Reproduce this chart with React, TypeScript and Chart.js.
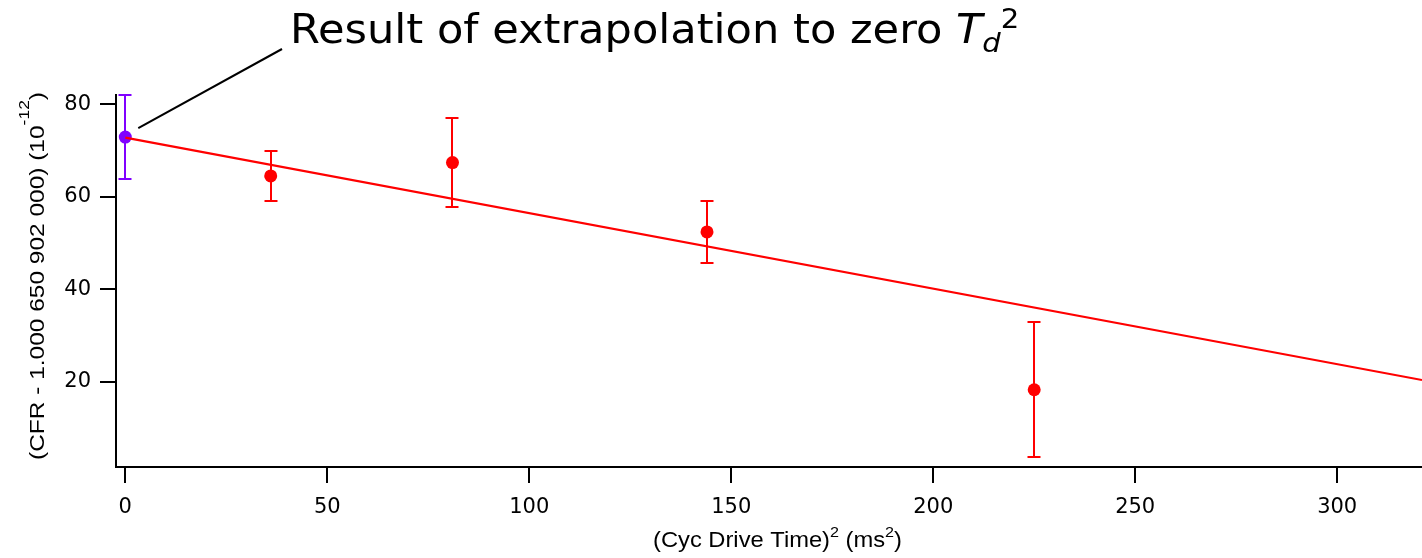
import React, { useEffect, useRef } from 'react';
import { Chart, registerables } from 'chart.js';

Chart.register(...registerables);

// ---- data ----
const xValues = [0, 36, 81, 144, 225];
const yValues = [72.9, 64.5, 67.4, 52.4, 18.3];
const yErrors = [9.0, 5.5, 9.7, 6.7, 14.6];
const pointColors = ['#8000ff', '#ff0000', '#ff0000', '#ff0000', '#ff0000'];
const fitX = [0, 321];
const fitY = [72.8, 20.4];
const xTicks = [0, 50, 100, 150, 200, 250, 300];
const yTicks = [20, 40, 60, 80];
const xRange = [-2.3, 321];
const yRange = [1.6, 82];

const annotationMain = 'Result of extrapolation to zero ';
const annotationVar = 'T';
const annotationSub = 'd';
const annotationSup = '2';
const xTitleParts = ['(Cyc Drive Time)', '2', ' (ms', '2', ')'];
const yTitleParts = ['(CFR - 1.000 650 902 000) (10', '-12', ')'];

type Seg = { text: string; size: number; dy: number; italic?: boolean };

function segWidth(ctx: CanvasRenderingContext2D, segs: Seg[], family: string) {
  let w = 0;
  for (const s of segs) {
    ctx.font = `${s.italic ? 'italic ' : ''}${s.size}px "${family}"`;
    w += ctx.measureText(s.text).width;
  }
  return w;
}

function drawRich(
  ctx: CanvasRenderingContext2D,
  segs: Seg[],
  family: string,
  x: number,
  y: number,
  sx: number,
  rotate: boolean
) {
  ctx.save();
  ctx.translate(x, y);
  if (rotate) ctx.rotate(-Math.PI / 2);
  ctx.scale(sx, 1);
  ctx.textAlign = 'left';
  ctx.textBaseline = 'alphabetic';
  ctx.fillStyle = '#000';
  let cx = 0;
  for (const s of segs) {
    ctx.font = `${s.italic ? 'italic ' : ''}${s.size}px "${family}"`;
    ctx.fillText(s.text, cx, s.dy);
    cx += ctx.measureText(s.text).width;
  }
  ctx.restore();
}

const errorBarPlugin = {
  id: 'errorBars',
  beforeDatasetsDraw(chart: any) {
    const ctx: CanvasRenderingContext2D = chart.ctx;
    const xs = chart.scales.x;
    const ys = chart.scales.y;
    ctx.save();
    ctx.lineWidth = 2;
    xValues.forEach((xv, i) => {
      const px = Math.round(xs.getPixelForValue(xv));
      const top = Math.round(ys.getPixelForValue(yValues[i] + yErrors[i]));
      const bot = Math.round(ys.getPixelForValue(yValues[i] - yErrors[i]));
      ctx.strokeStyle = pointColors[i];
      ctx.beginPath();
      ctx.moveTo(px, top);
      ctx.lineTo(px, bot);
      ctx.moveTo(px - 6.5, top);
      ctx.lineTo(px + 6.5, top);
      ctx.moveTo(px - 6.5, bot);
      ctx.lineTo(px + 6.5, bot);
      ctx.stroke();
    });
    ctx.restore();
  },
};

const textPlugin = {
  id: 'richText',
  afterDraw(chart: any) {
    const ctx: CanvasRenderingContext2D = chart.ctx;
    const xs = chart.scales.x;
    const ys = chart.scales.y;

    // leader line from the extrapolated point to the label
    const p0x = xs.getPixelForValue(xValues[0]);
    const p0y = ys.getPixelForValue(yValues[0]);
    ctx.save();
    ctx.strokeStyle = '#000';
    ctx.lineWidth = 2;
    ctx.beginPath();
    ctx.moveTo(p0x + 13, p0y - 9);
    ctx.lineTo(282, 49);
    ctx.stroke();
    ctx.restore();

    // annotation
    const annFamily = 'DejaVu Sans';
    const mainSeg: Seg[] = [{ text: annotationMain, size: 40, dy: 0 }];
    const annSx = 666 / segWidth(ctx, mainSeg, annFamily);
    drawRich(
      ctx,
      [
        { text: annotationMain, size: 40, dy: 0 },
        { text: annotationVar, size: 40, dy: 0, italic: true },
        { text: annotationSub, size: 27, dy: 9, italic: true },
        { text: annotationSup, size: 27, dy: -15 },
      ],
      annFamily,
      290,
      43,
      annSx,
      false
    );

    // x title
    const tFamily = 'Liberation Sans';
    const xSegs: Seg[] = [
      { text: xTitleParts[0], size: 22, dy: 0 },
      { text: xTitleParts[1], size: 15, dy: -10 },
      { text: xTitleParts[2], size: 22, dy: 0 },
      { text: xTitleParts[3], size: 15, dy: -10 },
      { text: xTitleParts[4], size: 22, dy: 0 },
    ];
    const xSx = 249 / segWidth(ctx, xSegs, tFamily);
    drawRich(ctx, xSegs, tFamily, 653, 547, xSx, false);

    // y title
    const ySegs: Seg[] = [
      { text: yTitleParts[0], size: 21, dy: 0 },
      { text: yTitleParts[1], size: 15, dy: -15 },
      { text: yTitleParts[2], size: 21, dy: 0 },
    ];
    const ySx = 368 / segWidth(ctx, ySegs, tFamily);
    drawRich(ctx, ySegs, tFamily, 43.5, 460, ySx, true);
  },
};

export default function App() {
  const canvasRef = useRef<HTMLCanvasElement | null>(null);

  useEffect(() => {
    const canvas = canvasRef.current;
    if (!canvas) return;
    const points = xValues.map((x, i) => ({ x, y: yValues[i] }));
    const fit = fitX.map((x, i) => ({ x, y: fitY[i] }));

    const axisCommon = {
      type: 'linear' as const,
      grid: {
        display: true,
        drawOnChartArea: false,
        drawTicks: true,
        tickLength: 16,
        color: '#000',
        lineWidth: 2,
      },
      border: { display: true, color: '#000', width: 2 },
    };

    const chart = new Chart(canvas, {
      type: 'scatter',
      data: {
        datasets: [
          {
            data: points,
            pointRadius: 6.5,
            pointHoverRadius: 6.5,
            pointBackgroundColor: pointColors,
            pointBorderColor: pointColors,
            pointBorderWidth: 0,
            showLine: false,
            order: 2,
            clip: false,
          },
          {
            data: fit,
            showLine: true,
            pointRadius: 0,
            borderColor: '#ff0000',
            borderWidth: 2.2,
            fill: false,
            order: 1,
          },
        ],
      },
      options: {
        animation: false,
        responsive: false,
        devicePixelRatio: 1,
        events: [],
        layout: { autoPadding: false, padding: { top: 95, right: 0, left: 0, bottom: 0 } },
        plugins: {
          legend: { display: false },
          tooltip: { enabled: false },
          title: { display: false },
        },
        scales: {
          x: {
            ...axisCommon,
            min: xRange[0],
            max: xRange[1],
            afterBuildTicks: (s: any) => {
              s.ticks = xTicks.map((v) => ({ value: v }));
            },
            afterFit: (s: any) => {
              s.height = 91;
              s.paddingLeft = 0;
              s.paddingRight = 0;
            },
            ticks: {
              color: '#000',
              padding: 12,
              maxRotation: 0,
              font: { family: 'DejaVu Sans', size: 21 },
            },
          },
          y: {
            ...axisCommon,
            min: yRange[0],
            max: yRange[1],
            afterBuildTicks: (s: any) => {
              s.ticks = yTicks.map((v) => ({ value: v }));
            },
            afterFit: (s: any) => {
              s.width = 116;
              s.paddingTop = 0;
              s.paddingBottom = 0;
            },
            ticks: {
              color: '#000',
              padding: 9,
              font: { family: 'DejaVu Sans', size: 21 },
            },
          },
        },
      },
      plugins: [errorBarPlugin, textPlugin],
    });

    return () => {
      chart.destroy();
    };
  }, []);

  return (
    <div style={{ position: 'fixed', left: 0, top: 0, width: 1422, height: 558, background: '#fff' }}>
      <canvas ref={canvasRef} width={1422} height={558} style={{ display: 'block' }} />
    </div>
  );
}
